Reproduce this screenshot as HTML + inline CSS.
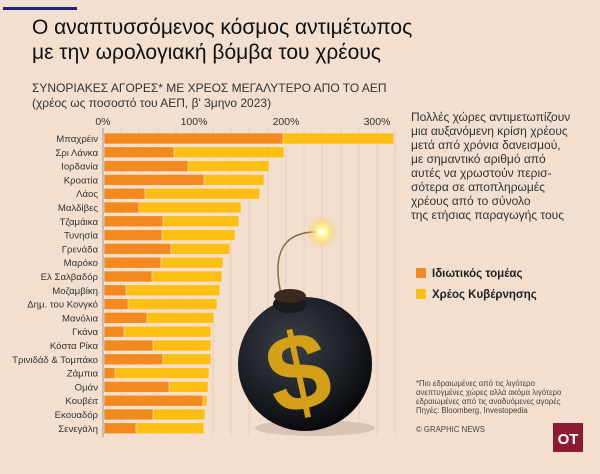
<!DOCTYPE html>
<html><head><meta charset="utf-8"><style>
body{margin:0;background:#f2dfcf;}
svg{display:block}
text{font-family:"Liberation Sans",sans-serif;}
</style></head><body>
<svg width="600" height="474" viewBox="0 0 600 474" xmlns="http://www.w3.org/2000/svg">
<rect width="600" height="474" fill="#f2dfcf"/>
<rect x="3" y="7" width="74" height="3" fill="#1a237e"/>
<text x="32" y="34" font-size="21" fill="#111">Ο αναπτυσσόμενος κόσμος αντιμέτωπος</text>
<text x="32" y="59" font-size="21" fill="#111">με την ωρολογιακή βόμβα του χρέους</text>
<text x="32" y="92" font-size="12" fill="#333">ΣΥΝΟΡΙΑΚΕΣ ΑΓΟΡΕΣ* ΜΕ ΧΡΕΟΣ ΜΕΓΑΛΥΤΕΡΟ ΑΠΟ ΤΟ ΑΕΠ</text>
<text x="32" y="107" font-size="12" fill="#333">(χρέος ως ποσοστό του ΑΕΠ, β' 3μηνο 2023)</text>
<g font-size="10.5" fill="#333" text-anchor="middle">
<text x="103" y="125">0%</text><text x="194" y="125">100%</text><text x="286" y="125">200%</text><text x="377" y="125">300%</text></g>
<g stroke="#e6cdbc" stroke-width="1">
<line x1="121" y1="128" x2="121" y2="436"/><line x1="139" y1="128" x2="139" y2="436"/><line x1="158" y1="128" x2="158" y2="436"/><line x1="176" y1="128" x2="176" y2="436"/><line x1="194" y1="128" x2="194" y2="436"/><line x1="213" y1="128" x2="213" y2="436"/><line x1="231" y1="128" x2="231" y2="436"/><line x1="249" y1="128" x2="249" y2="436"/><line x1="268" y1="128" x2="268" y2="436"/><line x1="286" y1="128" x2="286" y2="436"/><line x1="304" y1="128" x2="304" y2="436"/><line x1="322" y1="128" x2="322" y2="436"/><line x1="341" y1="128" x2="341" y2="436"/><line x1="359" y1="128" x2="359" y2="436"/><line x1="377" y1="128" x2="377" y2="436"/><line x1="395" y1="128" x2="395" y2="436"/>
</g>
<line x1="103" y1="128" x2="103" y2="437" stroke="#999" stroke-width="1"/>
<g stroke="#f8e7d6" stroke-width="0.6">
<rect x="104" y="133.0" width="290" height="11" fill="#fdbf14"/><rect x="104" y="133.0" width="179" height="11" fill="#f38a20"/>
<rect x="104" y="146.8" width="180" height="11" fill="#fdbf14"/><rect x="104" y="146.8" width="70" height="11" fill="#f38a20"/>
<rect x="104" y="160.6" width="165" height="11" fill="#fdbf14"/><rect x="104" y="160.6" width="84" height="11" fill="#f38a20"/>
<rect x="104" y="174.4" width="160" height="11" fill="#fdbf14"/><rect x="104" y="174.4" width="100" height="11" fill="#f38a20"/>
<rect x="104" y="188.2" width="156" height="11" fill="#fdbf14"/><rect x="104" y="188.2" width="41" height="11" fill="#f38a20"/>
<rect x="104" y="202.0" width="137" height="11" fill="#fdbf14"/><rect x="104" y="202.0" width="35" height="11" fill="#f38a20"/>
<rect x="104" y="215.8" width="135" height="11" fill="#fdbf14"/><rect x="104" y="215.8" width="59" height="11" fill="#f38a20"/>
<rect x="104" y="229.6" width="131" height="11" fill="#fdbf14"/><rect x="104" y="229.6" width="58" height="11" fill="#f38a20"/>
<rect x="104" y="243.4" width="126" height="11" fill="#fdbf14"/><rect x="104" y="243.4" width="67" height="11" fill="#f38a20"/>
<rect x="104" y="257.2" width="119" height="11" fill="#fdbf14"/><rect x="104" y="257.2" width="57" height="11" fill="#f38a20"/>
<rect x="104" y="271.0" width="118" height="11" fill="#fdbf14"/><rect x="104" y="271.0" width="48" height="11" fill="#f38a20"/>
<rect x="104" y="284.8" width="116" height="11" fill="#fdbf14"/><rect x="104" y="284.8" width="22" height="11" fill="#f38a20"/>
<rect x="104" y="298.6" width="113" height="11" fill="#fdbf14"/><rect x="104" y="298.6" width="24" height="11" fill="#f38a20"/>
<rect x="104" y="312.4" width="110" height="11" fill="#fdbf14"/><rect x="104" y="312.4" width="43" height="11" fill="#f38a20"/>
<rect x="104" y="326.2" width="107" height="11" fill="#fdbf14"/><rect x="104" y="326.2" width="20" height="11" fill="#f38a20"/>
<rect x="104" y="340.0" width="107" height="11" fill="#fdbf14"/><rect x="104" y="340.0" width="49" height="11" fill="#f38a20"/>
<rect x="104" y="353.8" width="107" height="11" fill="#fdbf14"/><rect x="104" y="353.8" width="59" height="11" fill="#f38a20"/>
<rect x="104" y="367.6" width="105" height="11" fill="#fdbf14"/><rect x="104" y="367.6" width="11" height="11" fill="#f38a20"/>
<rect x="104" y="381.4" width="104" height="11" fill="#fdbf14"/><rect x="104" y="381.4" width="65" height="11" fill="#f38a20"/>
<rect x="104" y="395.2" width="103" height="11" fill="#fdbf14"/><rect x="104" y="395.2" width="99" height="11" fill="#f38a20"/>
<rect x="104" y="409.0" width="101" height="11" fill="#fdbf14"/><rect x="104" y="409.0" width="49" height="11" fill="#f38a20"/>
<rect x="104" y="422.8" width="100" height="11" fill="#fdbf14"/><rect x="104" y="422.8" width="32" height="11" fill="#f38a20"/>
</g>
<g font-size="9.6" fill="#333" text-anchor="end">
<text x="98" y="142.0">Μπαχρέιν</text><text x="98" y="155.8">Σρι Λάνκα</text><text x="98" y="169.6">Ιορδανία</text><text x="98" y="183.4">Κροατία</text><text x="98" y="197.2">Λάος</text><text x="98" y="211.0">Μαλδίβες</text><text x="98" y="224.8">Τζαμάικα</text><text x="98" y="238.6">Τυνησία</text><text x="98" y="252.4">Γρενάδα</text><text x="98" y="266.2">Μαρόκο</text><text x="98" y="280.0">Ελ Σαλβαδόρ</text><text x="98" y="293.8">Μοζαμβίκη</text><text x="98" y="307.6">Δημ. του Κονγκό</text><text x="98" y="321.4">Μανόλια</text><text x="98" y="335.2">Γκάνα</text><text x="98" y="349.0">Κόστα Ρίκα</text><text x="98" y="362.8">Τρινιδάδ &amp; Τομπάκο</text><text x="98" y="376.6">Ζάμπια</text><text x="98" y="390.4">Ομάν</text><text x="98" y="404.2">Κουβέιτ</text><text x="98" y="418.0">Εκουαδόρ</text><text x="98" y="431.8">Σενεγάλη</text>
</g>
<defs><radialGradient id="bg" cx="0.4" cy="0.35" r="0.7"><stop offset="0" stop-color="#3a4048"/><stop offset="0.6" stop-color="#1c2026"/><stop offset="1" stop-color="#050608"/></radialGradient>
<radialGradient id="sp"><stop offset="0" stop-color="#fff"/><stop offset="0.3" stop-color="#fff6a0"/><stop offset="1" stop-color="#fbc02d" stop-opacity="0"/></radialGradient></defs>
<ellipse cx="315" cy="428" rx="60" ry="8" fill="#d9c3b2"/>
<path d="M282 298 C270 250 285 230 322 232" fill="none" stroke="#8a6a40" stroke-width="1.5"/>
<circle cx="322" cy="232" r="16" fill="url(#sp)"/>
<circle cx="305" cy="364" r="67" fill="url(#bg)"/>
<ellipse cx="290" cy="304" rx="17" ry="9" fill="#1a1c20"/>
<ellipse cx="290" cy="296" rx="16" ry="7" fill="#3a2a1e"/>
<text x="300" y="410" font-size="110" font-weight="bold" fill="#d4a017" text-anchor="middle" font-family="Liberation Serif,serif" transform="rotate(-12 300 380)">$</text>
<g font-size="12" fill="#333">
<text x="411" y="121">Πολλές χώρες αντιμετωπίζουν</text>
<text x="411" y="135">μια αυξανόμενη κρίση χρέους</text>
<text x="411" y="149">μετά από χρόνια δανεισμού,</text>
<text x="411" y="163">με σημαντικό αριθμό από</text>
<text x="411" y="177">αυτές να χρωστούν περισ-</text>
<text x="411" y="191">σότερα σε αποπληρωμές</text>
<text x="411" y="205">χρέους από το σύνολο</text>
<text x="411" y="219">της ετήσιας παραγωγής τους</text>
</g>
<rect x="416" y="268" width="10" height="10" fill="#f38a20"/>
<text x="432" y="277" font-size="11.5" font-weight="bold" fill="#222">Ιδιωτικός τομέας</text>
<rect x="416" y="289" width="10" height="10" fill="#fdbf14"/>
<text x="432" y="298" font-size="11.5" font-weight="bold" fill="#222">Χρέος Κυβέρνησης</text>
<g font-size="7.8" fill="#444">
<text x="416" y="386">*Πιο εδραιωμένες από τις λιγότερο</text>
<text x="416" y="395">ανεπτυγμένες χώρες αλλά ακόμα λιγότερο</text>
<text x="416" y="404">εδραιωμένες από τις αναδυόμενες αγορές</text>
<text x="416" y="413">Πηγές: Bloomberg, Investopedia</text>
<text x="416" y="432">© GRAPHIC NEWS</text></g>
<rect x="553" y="423" width="30" height="29" fill="#8b1a32"/>
<text x="568" y="444" font-size="15" font-weight="bold" fill="#fff" text-anchor="middle">OT</text>
</svg>
</body></html>
